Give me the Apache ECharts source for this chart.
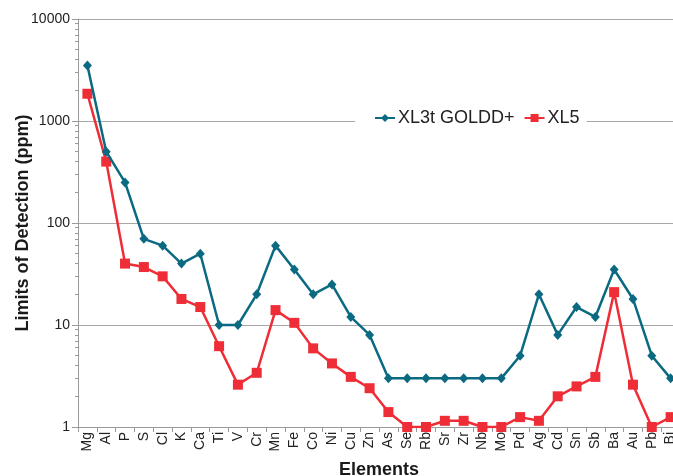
<!DOCTYPE html>
<html>
<head>
<meta charset="utf-8">
<script src="https://cdn.jsdelivr.net/npm/echarts@6/dist/echarts.min.js"></script>
<style>
html,body{margin:0;padding:0;background:#fff;}
#chart{width:673px;height:476px;}
</style>
</head>
<body>
<div id="chart"></div>
<script>
const elements = ['Mg','Al','P','S','Cl','K','Ca','Ti','V','Cr','Mn','Fe','Co','Ni','Cu','Zn','As','Se','Rb','Sr','Zr','Nb','Mo','Pd','Ag','Cd','Sn','Sb','Ba','Au','Pb','Bi'];
const xl3tGoldd = [3500,500,250,70,60,40,50,10,10,20,60,35,20,25,12,8,3,3,3,3,3,3,3,5,20,8,15,12,35,18,5,3];
const xl5 = [1850,400,40,37,30,18,15,6.2,2.6,3.4,14,10.5,5.9,4.2,3.1,2.4,1.4,1.0,1.0,1.15,1.15,1.0,1.0,1.25,1.15,2.0,2.5,3.1,21,2.6,1.0,1.25];
const yMajorTicks = [1,10,100,1000,10000];
const yMinorTicks = [2,3,4,5,6,7,8,9,20,30,40,50,60,70,80,90,200,300,400,500,600,700,800,900,2000,3000,4000,5000,6000,7000,8000,9000];

const FONT = '"Liberation Sans", Arial, Helvetica, sans-serif';
const TEAL = '#0b6a82';
const RED = '#ee2d36';
const chart = echarts.init(document.getElementById('chart'), null, {renderer:'canvas'});
chart.setOption({
  animation:false,
  backgroundColor:'#fff',
  textStyle:{fontFamily:FONT},
  grid:{left:78, top:19, width:602, height:408, containLabel:false, outerBoundsMode:'none'},
  legend:{
    left:355, top:104,
    padding:[5,7,5,19],
    backgroundColor:'#fff',
    itemWidth:20, itemHeight:10, itemGap:9,
    textStyle:{fontFamily:FONT, fontSize:18, color:'#222', padding:[0,0,0,-2]},
    data:['XL3t GOLDD+','XL5']
  },
  xAxis:{
    type:'category',
    data:elements,
    boundaryGap:true,
    name:'Elements',
    nameLocation:'middle',
    nameGap:34,
    nameMoveOverlap:false,
    nameTextStyle:{fontFamily:FONT, fontSize:18, fontWeight:'bold', color:'#1a1a1a'},
    axisLine:{lineStyle:{color:'#9a9a9a', width:1}},
    axisTick:{show:true, length:5, inside:false, interval:0, lineStyle:{color:'#9a9a9a'}},
    axisLabel:{interval:0, rotate:90, fontSize:14, color:'#222', margin:5, fontFamily:FONT, hideOverlap:false},
    splitLine:{show:false}
  },
  yAxis:[{
    type:'log',
    logBase:10,
    min:1, max:10000,
    name:'Limits of Detection (ppm)',
    nameLocation:'middle',
    nameGap:46,
    nameMoveOverlap:false,
    nameTextStyle:{fontFamily:FONT, fontSize:18, fontWeight:'bold', color:'#1a1a1a'},
    axisLine:{show:true, lineStyle:{color:'#9a9a9a', width:1}},
    axisTick:{show:true, length:6, customValues:yMajorTicks, lineStyle:{color:'#9a9a9a'}},
    axisLabel:{fontSize:14, color:'#222', margin:8, fontFamily:FONT, customValues:yMajorTicks,
      formatter:function(v){return String(Math.round(v));}},
    splitLine:{show:true, lineStyle:{color:'#a8a8a8', width:1}}
  },{
    type:'log',
    logBase:10,
    min:1, max:10000,
    position:'left',
    offset:0,
    axisLine:{show:false},
    axisTick:{show:true, length:3, customValues:yMinorTicks, lineStyle:{color:'#9a9a9a'}},
    axisLabel:{show:false},
    splitLine:{show:false}
  }],
  series:[{
    name:'XL3t GOLDD+',
    type:'line',
    data:xl3tGoldd,
    yAxisIndex:0,
    symbol:'diamond',
    symbolSize:[9,10],
    showAllSymbol:true,
    lineStyle:{color:TEAL, width:2.5},
    itemStyle:{color:TEAL},
    z:3
  },{
    name:'XL5',
    type:'line',
    data:xl5,
    yAxisIndex:0,
    symbol:'rect',
    symbolSize:10,
    showAllSymbol:true,
    lineStyle:{color:RED, width:2.5},
    itemStyle:{color:RED},
    z:2
  }]
});
</script>
</body>
</html>
